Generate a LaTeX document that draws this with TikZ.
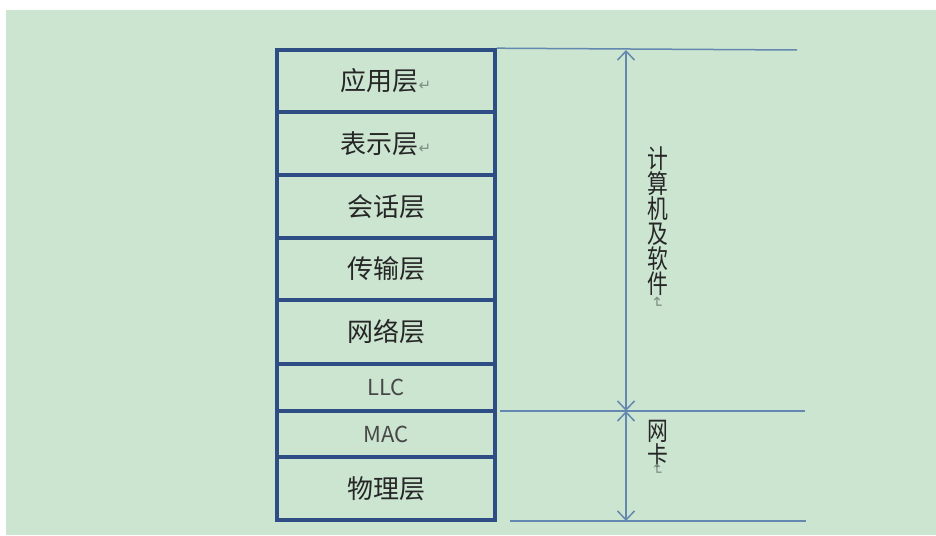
\documentclass[tikz,border=0pt]{standalone}
\usepackage{fontspec}
\setmainfont{Noto Sans CJK SC}
\newfontfamily\symf{DejaVu Sans}
\usetikzlibrary{arrows.meta}
\definecolor{bggreen}{HTML}{CBE5D0}
\definecolor{boxblue}{HTML}{2E4D85}
\definecolor{dimblue}{HTML}{6488B0}
\definecolor{txt}{HTML}{262626}
\definecolor{markgray}{HTML}{7E8E84}
\newcommand{\pmark}{{\symf\fontsize{15}{15}\selectfont\color{markgray}↵}}
\tikzset{
  layer/.style={draw=boxblue, line width=3.6pt, minimum width=218pt, inner sep=0pt,
    text=txt, font=\fontsize{26}{28}\selectfont},
  latin/.style={font=\fontsize{22}{24}\selectfont, text=txt!85},
  dimline/.style={draw=dimblue, line width=1.5pt},
  dimarrow/.style={draw=dimblue, line width=1.5pt,
    {Straight Barb[length=9pt,width=17pt]}-{Straight Barb[length=9pt,width=17pt]}},
  vlabel/.style={text=txt, align=center, font=\fontsize{26}{25}\selectfont, inner sep=0pt, xscale=0.8}
}
\begin{document}
\begin{tikzpicture}[x=1pt,y=-1pt]
\useasboundingbox (0,0) rectangle (936,535);
\fill[white] (0,0) rectangle (936,535);
\fill[bggreen] (6,10) rectangle (936,535);
% layers
\node[layer, minimum height=62pt] (app)   at (386,81)    {应用层\pmark};
\node[layer, minimum height=63pt] (pres)  at (386,143.5) {表示层\pmark};
\node[layer, minimum height=63pt] (sess)  at (386,206.5) {会话层};
\node[layer, minimum height=62pt] (trans) at (386,269)   {传输层};
\node[layer, minimum height=64pt] (net)   at (386,332)   {网络层};
\node[layer, latin, minimum height=47pt] (llc) at (386,387.5) {LLC};
\node[layer, latin, minimum height=46pt] (mac) at (386,434)   {MAC};
\node[layer, minimum height=63pt] (phy)   at (386,488.5) {物理层};
% dimension guides
\coordinate (topR) at (797,50);
\coordinate (midL) at (500,411);
\coordinate (midR) at (805,411);
\coordinate (botL) at (510,521);
\coordinate (botR) at (806,521);
\coordinate (aTop) at (626,50);
\coordinate (aMid) at (626,411);
\coordinate (aBot) at (626,521);
\draw[dimline] (app.north east) -- (topR);
\draw[dimline] (midL) -- (midR);
\draw[dimline] (botL) -- (botR);
\draw[dimarrow] (aTop) -- (aMid);
\draw[dimarrow] (aMid) -- (aBot);
% labels
\node[vlabel, anchor=north] (soft) at (658,147) {计\\算\\机\\及\\软\\件};
\node[anchor=north, rotate=-90, inner sep=0pt] (softm) at (662,303) {\pmark};
\node[vlabel, anchor=north] (nic) at (658,420) {网\\卡};
\node[anchor=north, rotate=-90, inner sep=0pt] (nicm) at (662,470) {\pmark};
\end{tikzpicture}
\end{document}
